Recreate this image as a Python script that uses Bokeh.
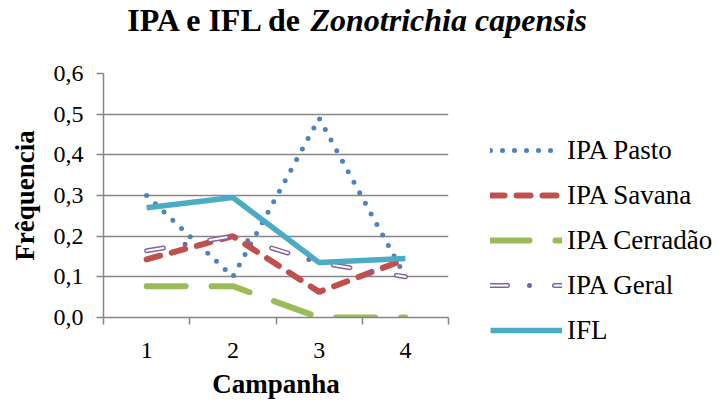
from bokeh.plotting import figure
from bokeh.layouts import column, row
from bokeh.core.properties import value
from bokeh.models import (FixedTicker, Legend, LegendItem, ColumnDataSource, Range1d)
from bokeh.embed import file_html
from bokeh.resources import INLINE

# ---- data ----
campanhas = [1, 2, 3, 4]
ipa_pasto = [0.30, 0.10, 0.49, 0.10]
ipa_savana = [0.143, 0.20, 0.063, 0.143]
ipa_cerradao = [0.077, 0.077, 0.0, 0.0]
ipa_geral = [0.164, 0.20, 0.135, 0.10]
ifl = [0.27, 0.295, 0.135, 0.145]

series_names = ["IPA Pasto", "IPA Savana", "IPA Cerradão", "IPA Geral", "IFL"]
y_ticks = [0.0, 0.1, 0.2, 0.3, 0.4, 0.5, 0.6]
y_tick_labels = ["0,0", "0,1", "0,2", "0,3", "0,4", "0,5", "0,6"]
x_tick_labels = ["1", "2", "3", "4"]
x_boundaries = [0.5, 1.5, 2.5, 3.5, 4.5]

title_plain = "IPA e IFL de"
title_italic = "Zonotrichia capensis"
x_label = "Campanha"
y_label = "Frêquencia"

FONT = "Liberation Serif"
GRAY = "#868686"

styles = [
    dict(line_color="#4F81BD", line_width=5, line_dash="0 12", line_cap="round"),
    dict(line_color="#C0504D", line_width=6, line_dash="14 12", line_cap="round"),
    dict(line_color="#9BBB59", line_width=6, line_dash="39 26", line_cap="round"),
    dict(line_color="#8064A2", line_width=5, line_dash="17 22 0 25", line_cap="round"),
    dict(line_color="#4BACC6", line_width=5.5),
]
geral_inner = dict(line_color="white", line_width=2, line_dash="17 47", line_cap="round")
cols = ["pasto", "savana", "cerradao", "geral", "ifl"]

src = ColumnDataSource(dict(x=campanhas, pasto=ipa_pasto, savana=ipa_savana,
                            cerradao=ipa_cerradao, geral=ipa_geral, ifl=ifl))

# ---- title strip (pixel-unit ranges) ----
TW, TH = 719, 50
tf = figure(width=TW, height=TH, output_backend="svg", toolbar_location=None,
            x_axis_location=None, y_axis_location=None,
            min_border_left=0, min_border_right=0, min_border_top=0, min_border_bottom=0,
            x_range=Range1d(0, TW), y_range=Range1d(0, TH))
tf.outline_line_color = None
tf.grid.visible = False
tf.text(x=[303], y=[31], text=[title_plain], text_align="right",
        text_baseline="middle", text_font=value(FONT), text_font_size="32px",
        text_font_style="bold", text_color="black")
tf.text(x=[310], y=[31], text=[title_italic], text_align="left",
        text_baseline="middle", text_font=value(FONT), text_font_size="32px",
        text_font_style="bold italic", text_color="black")

# ---- main chart ----
MW, MH = 452, 356
p = figure(width=MW, height=MH, output_backend="svg", toolbar_location=None,
           x_range=Range1d(0.5, 4.5), y_range=Range1d(0, 0.6),
           min_border_left=103, min_border_right=4, min_border_top=23,
           min_border_bottom=89)
p.outline_line_color = None

p.xaxis.ticker = FixedTicker(ticks=campanhas, minor_ticks=x_boundaries)
p.xaxis.major_label_overrides = {c: l for c, l in zip(campanhas, x_tick_labels)}
p.xaxis.major_tick_out = 0
p.xaxis.major_tick_in = 0
p.xaxis.minor_tick_out = 7
p.xaxis.minor_tick_in = 0
p.xaxis.minor_tick_line_color = GRAY
p.xaxis.minor_tick_line_width = 1.5
p.xaxis.major_label_standoff = 18
p.xaxis.axis_label = x_label

p.yaxis.ticker = FixedTicker(ticks=y_ticks, minor_ticks=[])
p.yaxis.major_label_overrides = {t: l for t, l in zip(y_ticks, y_tick_labels)}
p.yaxis.major_tick_out = 7
p.yaxis.major_tick_in = 0
p.yaxis.major_label_standoff = 13
p.yaxis.axis_label = y_label

for ax in (p.xaxis, p.yaxis):
    ax.axis_line_color = GRAY
    ax.axis_line_width = 1.5
    ax.major_tick_line_color = GRAY
    ax.major_tick_line_width = 1.5
    ax.major_label_text_font = FONT
    ax.major_label_text_font_size = "24px"
    ax.major_label_text_color = "black"
    ax.axis_label_text_font = FONT
    ax.axis_label_text_font_size = "27px"
    ax.axis_label_text_font_style = "bold"
    ax.axis_label_text_color = "black"
p.xaxis.axis_label_standoff = 8
p.yaxis.axis_label_standoff = 11

p.xgrid.grid_line_color = None
p.ygrid.ticker = FixedTicker(ticks=y_ticks)
p.ygrid.grid_line_color = GRAY
p.ygrid.grid_line_width = 1.5

for c, st in zip(cols, styles):
    p.line("x", c, source=src, **st)
    if c == "geral":
        p.line("x", c, source=src, **geral_inner)

# ---- legend panel (own figure; legend glyphs reference hidden copies) ----
LW, LH = TW - MW, MH
lf = figure(width=LW, height=LH, output_backend="svg", toolbar_location=None,
            x_axis_location=None, y_axis_location=None,
            min_border_left=38, min_border_right=0, min_border_top=23, min_border_bottom=0,
            x_range=Range1d(0.5, 4.5), y_range=Range1d(0, 0.6))
lf.outline_line_color = None
lf.grid.visible = False
items = []
for name, c, st in zip(series_names, cols, styles):
    rs = [lf.line("x", c, source=src, visible=False, **st)]
    if c == "geral":
        rs.append(lf.line("x", c, source=src, visible=False, **geral_inner))
    items.append(LegendItem(label=name, renderers=rs))

legend = Legend(items=items, location="top_left")
legend.title = " "
legend.title_text_font_size = "1px"
legend.title_standoff = 60
legend.label_text_font = FONT
legend.label_text_font_size = "27px"
legend.label_text_color = "black"
legend.glyph_width = 72
legend.glyph_height = 32
legend.label_height = 32
legend.spacing = 13
legend.padding = 0
legend.margin = 0
legend.label_standoff = 5
legend.border_line_color = None
legend.background_fill_alpha = 0
legend.inactive_fill_alpha = 0
lf.add_layout(legend, "center")

layout = column(tf, row(p, column(lf, spacing=0), spacing=0), spacing=0)
open("out.html", "w").write(file_html(layout, INLINE))
